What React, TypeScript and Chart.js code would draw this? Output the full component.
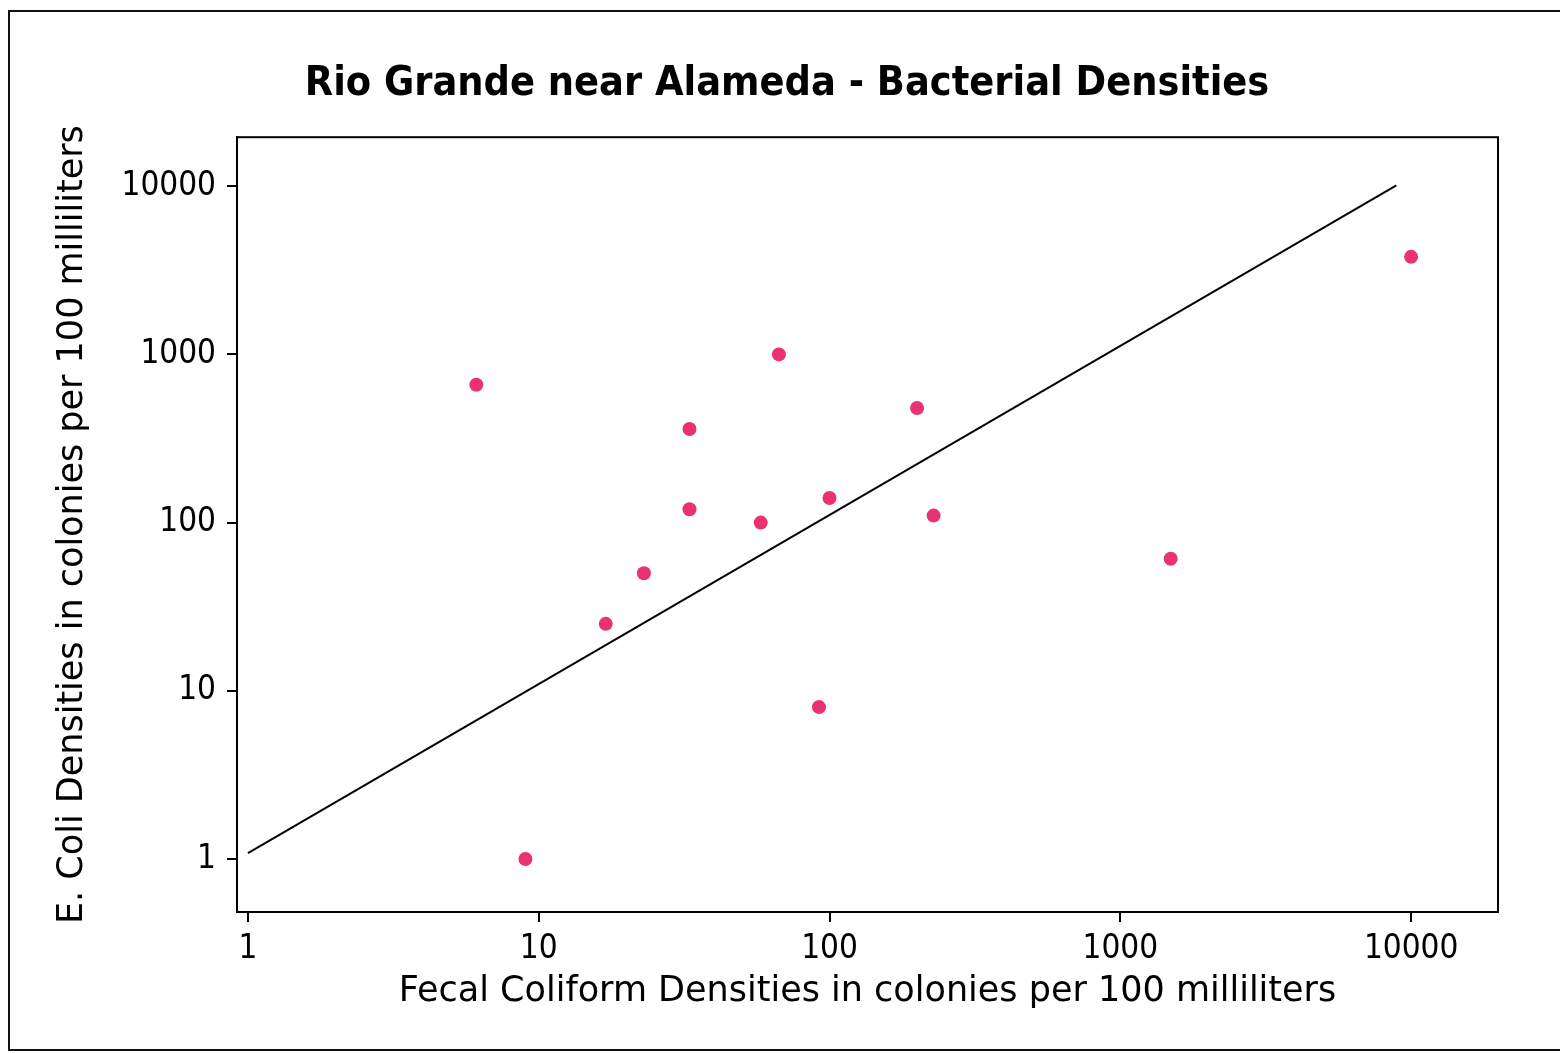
import React, { useEffect, useRef } from "react";
import { Chart, registerables } from "chart.js";

Chart.register(...registerables);

const chartTitle = "Rio Grande near Alameda - Bacterial Densities";
const xTitle = "Fecal Coliform Densities in colonies per 100 milliliters";
const yTitle = "E. Coli Densities in colonies per 100 milliliters";

const fecalColiform = [6.1, 9, 17, 23, 33, 33, 58, 67, 100, 92, 200, 228, 1490, 10000];
const eColi = [660, 1, 25, 50, 360, 120, 100, 1000, 140, 8, 480, 110, 61, 3800];

const fitLineX = [1, 8900];
const fitLineY = [1.085, 10100];

const xTicks = [1, 10, 100, 1000, 10000];
const yTicks = [1, 10, 100, 1000, 10000];

const TICK_FONT = "'DejaVu Sans Condensed', 'Liberation Sans Narrow', 'DejaVu Sans', sans-serif";
const LABEL_FONT = "'DejaVu Sans', Verdana, sans-serif";

const framePlugin = {
  id: "frame",
  beforeDraw(chart: any) {
    const ctx = chart.ctx;
    ctx.save();
    ctx.fillStyle = "#ffffff";
    ctx.fillRect(0, 0, chart.width, chart.height);
    ctx.strokeStyle = "#111111";
    ctx.lineWidth = 2;
    ctx.beginPath();
    ctx.moveTo(1560, 11);
    ctx.lineTo(9, 11);
    ctx.lineTo(9, 1050);
    ctx.lineTo(1560, 1050);
    ctx.stroke();
    ctx.restore();
  },
  afterDatasetsDraw(chart: any) {
    const { ctx, chartArea } = chart;
    ctx.save();
    ctx.strokeStyle = "#000000";
    ctx.lineWidth = 2;
    ctx.strokeRect(chartArea.left, chartArea.top, chartArea.right - chartArea.left, chartArea.bottom - chartArea.top);
    ctx.restore();
  },
};

export default function App() {
  const ref = useRef<HTMLCanvasElement | null>(null);

  useEffect(() => {
    document.body.style.margin = "0";
    document.body.style.overflow = "hidden";
    const canvas = ref.current;
    if (!canvas) return;
    const points = fecalColiform.map((x, i) => ({ x, y: eColi[i] }));
    const line = fitLineX.map((x, i) => ({ x, y: fitLineY[i] }));
    const chart = new Chart(canvas, {
      type: "scatter",
      data: {
        datasets: [
          {
            label: "Fit",
            data: line,
            showLine: true,
            borderColor: "#000000",
            borderWidth: 2,
            pointRadius: 0,
            fill: false,
            order: 2,
          },
          {
            label: "Samples",
            data: points,
            pointRadius: 7,
            pointBackgroundColor: "#e8336e",
            pointBorderColor: "#e8336e",
            pointBorderWidth: 0,
            order: 1,
          },
        ],
      },
      options: {
        animation: false,
        responsive: false,
        maintainAspectRatio: false,
        devicePixelRatio: 1,
        layout: { padding: { left: 76, right: 62, top: 0, bottom: 0 } },
        plugins: {
          legend: { display: false },
          tooltip: { enabled: false },
          title: {
            display: true,
            text: chartTitle,
            color: "#000000",
            font: { family: TICK_FONT, size: 41, weight: "bold" },
            padding: { top: 60, bottom: 28 },
          },
        },
        scales: {
          x: {
            type: "logarithmic",
            position: "bottom",
            min: 0.917,
            max: 19900,
            afterBuildTicks: (scale: any) => {
              scale.ticks = xTicks.map((v) => ({ value: v }));
            },
            afterFit: (scale: any) => {
              scale.height = 141;
            },
            ticks: {
              autoSkip: false,
              maxRotation: 0,
              color: "#000000",
              font: { family: TICK_FONT, size: 33 },
              padding: 8,
              callback: (v: any) => String(v),
            },
            grid: {
              display: true,
              drawOnChartArea: false,
              drawTicks: true,
              tickLength: 10,
              color: "#000000",
              lineWidth: 2,
            },
            border: { display: true, color: "#000000", width: 2 },
            title: {
              display: true,
              text: xTitle,
              color: "#000000",
              font: { family: LABEL_FONT, size: 35 },
              padding: { top: 0, bottom: 40 },
            },
          },
          y: {
            type: "logarithmic",
            position: "left",
            min: 0.484,
            max: 19550,
            afterBuildTicks: (scale: any) => {
              scale.ticks = yTicks.map((v) => ({ value: v }));
            },
            afterFit: (scale: any) => {
              scale.width = 161;
            },
            ticks: {
              autoSkip: false,
              color: "#000000",
              font: { family: TICK_FONT, size: 33 },
              padding: 11,
              callback: (v: any) => String(v),
            },
            grid: {
              display: true,
              drawOnChartArea: false,
              drawTicks: true,
              tickLength: 10,
              color: "#000000",
              lineWidth: 2,
            },
            border: { display: true, color: "#000000", width: 2 },
            title: {
              display: true,
              text: yTitle,
              color: "#000000",
              font: { family: LABEL_FONT, size: 35 },
              padding: { top: -24, bottom: 0 },
            },
          },
        },
      },
      plugins: [framePlugin],
    });
    return () => chart.destroy();
  }, []);

  return (
    <div style={{ width: 1560, height: 1053, overflow: "hidden" }}>
      <canvas ref={ref} width={1560} height={1053} style={{ display: "block", width: 1560, height: 1053 }} />
    </div>
  );
}
